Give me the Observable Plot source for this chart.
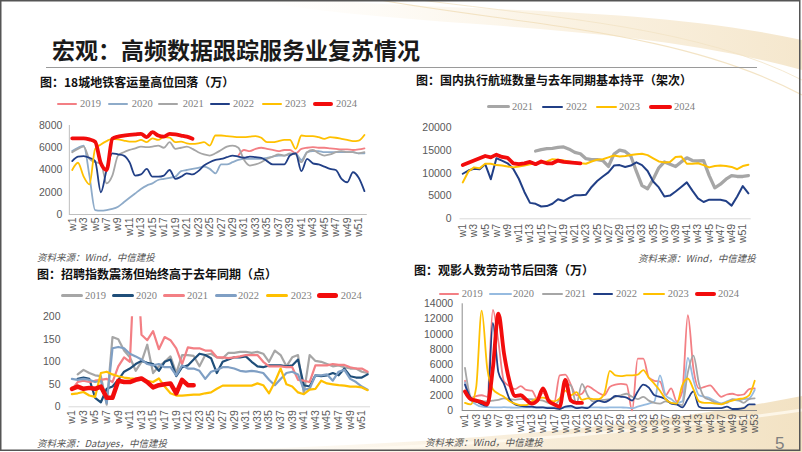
<!DOCTYPE html>
<html><head><meta charset="utf-8">
<script src="https://cdn.jsdelivr.net/npm/d3@7"></script>
<script src="https://cdn.jsdelivr.net/npm/@observablehq/plot@0.6"></script>
<style>
body{margin:0;background:#fff;}
#page{position:relative;width:802px;height:452px;overflow:hidden;background:#fff;font-family:"Noto Sans CJK SC",sans-serif;}
.abs{position:absolute;white-space:nowrap;line-height:1;}
.title{font-size:23px;font-weight:700;color:#1a1a1a;}
.cap{font-size:12px;font-weight:700;color:#111;}
.src{font-size:9.5px;font-style:italic;color:#555;}
.leg{font-family:"Liberation Serif",serif;font-size:10.5px;color:#7f7f7f;}
.pn{font-family:"Liberation Sans",Arial,sans-serif;font-size:17px;color:#808080;}
</style></head><body><div id="page"></div>
<script>
// ---------------- DATA ----------------
const years = ["2019","2020","2021","2022","2023","2024"];

// Chart 1: 18城地铁客运量（万）
const metro2019 = [null,null,null,null,null,null,null,null,null,null,null,null,null,null,null,null,null,null,null,null,null,null,null,null,null,null,null,null,null,
  5300,5800,5700,5900,6000,5900,5800,5700,5800,5800,5500,5900,6000,6050,6000,6000,5950,5900,5850,5850,5800,5850,5950];
const metro2020 = [5700,6000,6200,3500,400,350,400,500,700,1100,1500,1900,2300,2600,2800,3100,3200,3300,3400,3900,4000,4100,4200,4300,4100,3700,4500,4500,4700,4900,5000,5000,5000,5000,5100,5200,5300,5300,5400,5500,4900,5600,5700,5700,5600,5600,5600,5600,5600,5600,5500,5500];
const metro2021 = [5600,5900,6100,5000,4700,4600,2800,3500,5300,5600,5800,5950,6100,6050,6100,6200,6000,6500,5900,6000,6100,5900,5600,5400,5300,5500,5800,6100,6200,6000,4900,4400,4500,4700,5000,5200,5400,5300,5500,5400,4700,5600,5800,5500,5300,5400,5600,5700,5600,5600,5500,5600];
const metro2022 = [4800,5200,5250,5100,4800,2000,4000,5500,5400,5300,4700,3500,3600,4100,3400,3400,3500,4000,3200,3400,3700,3600,3900,4400,4700,4900,5000,5150,5300,5200,5100,5200,5150,5100,4800,4500,4500,4500,5300,5500,3900,5000,4600,4500,4300,4100,4000,3200,2900,3800,3300,2100];
const metro2023 = [4000,4650,3400,2700,5900,6300,6600,6800,6750,6650,6550,6550,6700,6500,6850,6700,6950,6900,6500,6550,6400,6350,6400,6500,6200,7100,7100,7050,7000,6950,6950,7000,7050,6900,6500,6500,6600,6700,6700,5900,7100,7050,7050,6950,6800,6950,6900,6800,6700,6600,6650,7150];
const metro2024 = [6850,6850,6850,6750,6550,4600,4000,6800,7000,7100,7150,7200,7250,6950,7400,7100,7000,7250,7200,7100,7000,6800];
const metroTicks = [0,2000,4000,6000,8000];

// Chart 2: 国内执行航班数量（架次）
const flight2021 = [null,null,null,null,null,null,null,null,null,null,null,null,null,
  14900,15200,15400,15500,15700,15800,15300,14600,14300,13200,13000,13000,12800,11500,14200,15100,14800,13800,10400,7300,6600,8700,11200,12500,12000,11500,12500,13400,12800,12700,12800,9500,6800,7600,8700,9500,9300,9300,9500];
const flight2022 = [9900,10600,11000,10900,12000,8700,13300,12800,12200,11000,8800,5900,3500,3300,2700,2800,3300,4300,3900,4600,5200,5200,5300,7000,8300,9300,10200,11700,11800,11400,11700,12400,11800,10500,8200,6900,4900,5100,6000,7000,8000,6200,4500,3700,4200,4200,4200,3900,2900,4900,7200,5600];
const flight2023 = [8000,10400,11300,11100,12100,12100,11800,11700,11500,11300,11500,11700,12000,12200,12400,12600,13100,13000,12800,12600,12400,12200,12100,12600,13000,13100,13500,13900,13700,13800,14000,14200,14300,14000,13300,12600,12400,12500,13600,13700,12100,12100,12200,11800,11300,11600,11700,11600,11400,10900,11600,11900];
const flight2024 = [11800,12300,12800,13300,13800,13500,14100,13600,13400,12200,12000,12200,12500,12000,12600,12200,12200,12800,12500,12400,12300,12200];
const flightTicks = [0,5000,10000,15000,20000];

// Chart 3: 招聘指数（点）
const hire2019 = [null,72,82,75,70,68,5,155,150,125,110,80,100,138,75,90,100,112,75,115,115,113,90,115,118,110,108,120,120,122,122,120,122,118,100,125,115,90,110,115,30,115,102,100,95,90,92,88,85,85,78,75];
const hire2020 = [null,62,65,62,20,10,40,45,60,78,85,95,102,98,95,80,100,105,68,88,92,105,118,115,108,75,100,105,110,110,112,100,90,88,92,92,92,90,92,105,48,45,70,68,70,75,70,85,68,65,65,72];
const hire2021 = [38,55,58,55,58,60,62,55,90,110,100,380,160,148,168,128,155,148,130,95,132,130,130,125,125,110,110,108,110,112,115,115,115,100,90,90,90,88,88,60,58,55,92,92,92,95,93,93,88,85,85,78];
const hire2022 = [62,60,62,60,55,58,8,130,133,130,118,112,105,95,92,95,88,88,70,92,85,85,80,62,78,82,88,88,85,80,78,80,78,75,60,48,62,75,78,72,38,40,70,70,72,58,78,82,62,55,45,38];
const hire2023 = [28,30,33,25,22,75,78,72,68,65,63,62,62,58,55,63,45,30,25,25,26,27,27,30,32,40,47,47,47,47,47,47,52,48,30,55,85,50,45,32,28,38,40,58,52,50,48,47,45,45,43,37];
const hire2024 = [40,45,40,42,40,45,20,20,58,55,55,60,63,55,43,48,50,52,30,60,48,48];
const hireTicks = [0,50,100,150,200];

// Chart 4: 观影人数（万）
const movie2019 = [3900,1600,1900,2000,1800,13200,9000,3800,3200,2800,3200,2700,2600,1500,2300,1500,1000,4600,4700,3400,2000,2200,3200,2800,2300,2000,3100,3400,3500,3400,0,6800,6800,4300,3900,3800,2000,2900,1200,2500,12500,5500,2900,3100,3300,2500,1800,2100,2200,2000,2100,2800,2900];
const movie2020 = [3700,1400,800,500,450,420,400,430,400,380,400,420,400,380,400,420,400,380,400,420,400,380,400,420,400,380,400,420,400,380,300,500,700,900,1200,4600,2000,1500,1000,1200,6900,4000,2000,1800,1600,1200,900,1200,1400,1300,1500,1600,2700];
const movie2021 = [5600,1800,1100,1200,1200,1300,1400,1600,1500,1400,1500,1500,1500,1400,1300,1000,800,1500,3500,3300,900,3500,2000,1200,1300,1400,1500,1800,2000,2200,1800,1500,1800,1300,1000,900,1200,1000,800,700,5000,7200,3500,1700,1400,1000,900,1000,1500,1400,1000,1500,1600];
const movie2022 = [3400,1700,1200,800,600,11500,5000,3500,1500,800,600,500,500,400,400,300,300,200,500,600,300,400,300,900,1300,1100,1400,1900,1800,1700,1300,2500,3400,3000,2000,1800,1500,900,800,400,1500,2500,500,300,300,300,300,500,200,200,300,800,800];
const movie2023 = [1000,800,3000,13100,5500,2800,2200,1800,1200,900,700,700,1200,1600,1700,1400,1200,1600,2600,2000,2400,1400,1600,1500,1500,2200,5200,4600,4500,4600,4600,4700,5300,4300,3500,2600,1500,1000,900,3300,4200,2800,1200,1000,1000,900,800,1100,1300,1500,1600,2000,3900];
const movie2024 = [2500,1500,1300,1100,800,5500,12700,7500,3800,1900,2000,1400,900,1300,2900,1300,800,500,4000,1300,1000,1000];
const movieTicks = [0,2000,4000,6000,8000,10000,12000,14000];

// ---------------- STYLES ----------------
const C = {pink:"#f37f84", ltblue:"#8eabc9", sky:"#96bbe0", gray:"#a6a6a6", navy:"#213f86", navy3:"#1f4e79", bluegray:"#7f9fc4", yellow:"#ffc000", red:"#f20c0c"};

const page = document.getElementById("page");

// background decoration
page.insertAdjacentHTML("beforeend", `
<svg class="abs" style="left:0;top:0" width="802" height="452">
  <defs>
    <linearGradient id="gb" x1="0" x2="1" y1="0" y2="0">
      <stop offset="0" stop-color="#fbf3e4" stop-opacity="0"/>
      <stop offset="0.5" stop-color="#f6e8cf" stop-opacity="0.7"/>
      <stop offset="1" stop-color="#f1dfbd" stop-opacity="0.9"/>
    </linearGradient>
    <linearGradient id="gt" x1="0" x2="1" y1="0" y2="0">
      <stop offset="0" stop-color="#fbf1df" stop-opacity="0"/>
      <stop offset="0.6" stop-color="#f6e6c8" stop-opacity="0.8"/>
      <stop offset="1" stop-color="#efd9b0" stop-opacity="0.9"/>
    </linearGradient>
  </defs>
  <path d="M250,0 C420,30 620,20 802,70 L802,40 C640,5 450,12 330,0 Z" fill="url(#gt)" opacity="0.7"/>
  <path d="M380,0 C520,25 680,30 802,95" fill="none" stroke="#f0ddb8" stroke-width="1.2" opacity="0.8"/>
  <path d="M420,0 C560,18 700,28 802,80" fill="none" stroke="#f3e4c6" stroke-width="1" opacity="0.8"/>
  <path d="M150,452 C400,446 620,432 802,396 L802,452 Z" fill="url(#gb)"/>
  <path d="M300,452 C500,444 680,428 802,410" fill="none" stroke="#fffaf0" stroke-width="3" opacity="0.8"/>
  <line x1="46" x2="757" y1="67.5" y2="67.5" stroke="#9a9a9a" stroke-width="1"/>
  <rect x="0.75" y="0.75" width="799" height="449.5" fill="none" stroke="#555" stroke-width="1.5"/>
</svg>`);

function text(str, x, yc, cls) {
  const d = document.createElement("div");
  d.className = "abs " + cls;
  d.textContent = str;
  d.style.left = x + "px";
  d.style.top = yc + "px";
  d.style.transform = "translateY(-50%)";
  page.appendChild(d);
}
function swatch(x0, x1, yc, color, w) {
  const d = document.createElement("div");
  d.className = "abs";
  Object.assign(d.style, {left: x0 + "px", top: (yc - w / 2) + "px", width: (x1 - x0) + "px", height: w + "px", background: color, borderRadius: (w/2) + "px"});
  page.appendChild(d);
}
function legend(items, yc) {
  items.forEach(it => { swatch(it.s0, it.s1, yc, it.color, it.w); text(it.label, it.t, yc, "leg"); });
}
const rows = (vals) => vals.map((v, i) => ({w: i + 1, v}));

function chart(o) {
  const nW = o.n;
  const odd = d3.range(1, nW + 1, 2);
  const marks = [
    Plot.ruleY([0], {stroke: o.axisColor, strokeWidth: 1}),
    o.leftAxis ? Plot.ruleX([0.5], {stroke: o.axisColor, strokeWidth: 1}) : null,
    Plot.axisY({ticks: o.yTicks, tickSize: 0, tickPadding: o.yPad, label: null, tickFormat: d => String(d), fontSize: o.fs}),
    Plot.axisX({ticks: odd, tickFormat: d => "w" + d, tickRotate: -90, tickSize: 0, tickPadding: o.xPad, label: null, fontSize: o.fs}),
    ...o.series.map(s => Plot.line(rows(s.values), {x: "w", y: "v", stroke: s.color, strokeWidth: s.width, curve: o.curve, clip: o.clip, strokeLinejoin: "round", strokeLinecap: "round"}))
  ].filter(Boolean);
  const p = Plot.plot({
    width: o.width, height: o.height,
    marginLeft: o.x0 - o.left, marginRight: o.left + o.width - o.x1,
    marginTop: o.yTop - o.top, marginBottom: o.top + o.height - o.yZero,
    x: {domain: [0.5, nW + 0.5]},
    y: {domain: [0, o.yMax]},
    style: {fontFamily: "'Liberation Sans', Arial, sans-serif", fontSize: o.fs + "px", color: "#595959", background: "transparent", overflow: "visible"},
    marks
  });
  p.style.position = "absolute";
  p.style.left = o.left + "px";
  p.style.top = o.top + "px";
  page.appendChild(p);
}

// ---------------- TEXT ----------------
text("宏观：高频数据跟踪服务业复苏情况", 52, 49, "title");
text("图：18城地铁客运量高位回落（万）", 40, 81.7, "cap");
text("图：国内执行航班数量与去年同期基本持平（架次）", 416, 80, "cap");
text("图：招聘指数震荡但始终高于去年同期（点）", 37, 273.5, "cap");
text("图：观影人数劳动节后回落（万）", 414, 270, "cap");
text("资料来源：Wind，中信建投", 37, 257.5, "src");
text("资料来源：Wind，中信建投", 638, 258.5, "src");
text("资料来源：Datayes，中信建投", 37, 444, "src");
text("资料来源：Wind，中信建投", 425, 443, "src");
text("5", 775, 443, "pn");

// ---------------- CHART 1 ----------------
legend([
  {label: years[0], color: C.pink, w: 2, s0: 56.7, s1: 76.7, t: 80},
  {label: years[1], color: C.ltblue, w: 2, s0: 108, s1: 128, t: 131.7},
  {label: years[2], color: C.gray, w: 2, s0: 158, s1: 178, t: 182.7},
  {label: years[3], color: C.navy, w: 2, s0: 210, s1: 230, t: 233},
  {label: years[4], color: C.yellow, w: 2, s0: 261.7, s1: 281.7, t: 285},
  {label: years[5], color: C.red, w: 4, s0: 312.7, s1: 333, t: 336}
], 104);
chart({left: 0, top: 110, width: 380, height: 140, x0: 68.85, x1: 366.8, yTop: 125, yZero: 214, yMax: 8000, n: 52,
  yTicks: metroTicks, yPad: 7, xPad: 3, fs: 10.5, axisColor: "#bfbfbf", leftAxis: true, curve: "monotone-x", clip: false,
  series: [
    {values: metro2019, color: C.pink, width: 1.8},
    {values: metro2020, color: C.ltblue, width: 1.8},
    {values: metro2021, color: C.gray, width: 1.8},
    {values: metro2022, color: C.navy, width: 1.8},
    {values: metro2023, color: C.yellow, width: 1.8},
    {values: metro2024, color: C.red, width: 3.8}
  ]});

// ---------------- CHART 2 ----------------
legend([
  {label: years[2], color: C.gray, w: 3.5, s0: 487, s1: 510, t: 512},
  {label: years[3], color: C.navy, w: 2, s0: 541.7, s1: 563.3, t: 566},
  {label: years[4], color: C.yellow, w: 2, s0: 595.7, s1: 616.7, t: 619},
  {label: years[5], color: C.red, w: 4, s0: 649, s1: 671.7, t: 674}
], 106.7);
chart({left: 400, top: 115, width: 400, height: 135, x0: 459.5, x1: 750.7, yTop: 127.3, yZero: 218.3, yMax: 20000, n: 52,
  yTicks: flightTicks, yPad: 8.5, xPad: 5, fs: 10.5, axisColor: "#d9d9d9", leftAxis: false, curve: "linear", clip: false,
  series: [
    {values: flight2021, color: C.gray, width: 3.3},
    {values: flight2022, color: C.navy, width: 2},
    {values: flight2023, color: C.yellow, width: 2},
    {values: flight2024, color: C.red, width: 3.8}
  ]});

// ---------------- CHART 3 ----------------
legend([
  {label: years[0], color: C.gray, w: 3, s0: 60.7, s1: 82.7, t: 85},
  {label: years[1], color: C.navy3, w: 3, s0: 111.7, s1: 134, t: 136},
  {label: years[2], color: C.pink, w: 3, s0: 163, s1: 185, t: 187},
  {label: years[3], color: C.bluegray, w: 3, s0: 215, s1: 236.7, t: 238},
  {label: years[4], color: C.yellow, w: 3, s0: 266, s1: 288, t: 290.7},
  {label: years[5], color: C.red, w: 5, s0: 316.7, s1: 338, t: 340.7}
], 295.7);
chart({left: 0, top: 305, width: 390, height: 133, x0: 68.5, x1: 370, yTop: 316.3, yZero: 406.3, yMax: 200, n: 52,
  yTicks: hireTicks, yPad: 8.5, xPad: 3.4, fs: 10.5, axisColor: "#d9d9d9", leftAxis: false, curve: "linear", clip: true,
  series: [
    {values: hire2019, color: C.gray, width: 2.2},
    {values: hire2020, color: C.navy3, width: 2.2},
    {values: hire2021, color: C.pink, width: 2.2},
    {values: hire2022, color: C.bluegray, width: 2.2},
    {values: hire2023, color: C.yellow, width: 2.2},
    {values: hire2024, color: C.red, width: 4.5}
  ]});

// ---------------- CHART 4 ----------------
legend([
  {label: years[0], color: C.pink, w: 2, s0: 439, s1: 459, t: 461.7},
  {label: years[1], color: C.sky, w: 2, s0: 489, s1: 511.7, t: 513},
  {label: years[2], color: C.gray, w: 2, s0: 541.7, s1: 563, t: 565},
  {label: years[3], color: C.navy, w: 2, s0: 592.7, s1: 613.3, t: 616},
  {label: years[4], color: C.yellow, w: 2, s0: 643, s1: 665, t: 667.7},
  {label: years[5], color: C.red, w: 4, s0: 695, s1: 716, t: 718}
], 294.3);
chart({left: 400, top: 296, width: 400, height: 142, x0: 461.7, x1: 757, yTop: 303.3, yZero: 410, yMax: 14000, n: 53,
  yTicks: movieTicks, yPad: 9, xPad: 3.3, fs: 10.5, axisColor: "#8c8c8c", leftAxis: true, curve: "monotone-x", clip: false,
  series: [
    {values: movie2019, color: C.pink, width: 1.8},
    {values: movie2020, color: C.sky, width: 1.8},
    {values: movie2021, color: C.gray, width: 1.8},
    {values: movie2022, color: C.navy, width: 1.8},
    {values: movie2023, color: C.yellow, width: 1.8},
    {values: movie2024, color: C.red, width: 3.8}
  ]});
</script></body></html>
